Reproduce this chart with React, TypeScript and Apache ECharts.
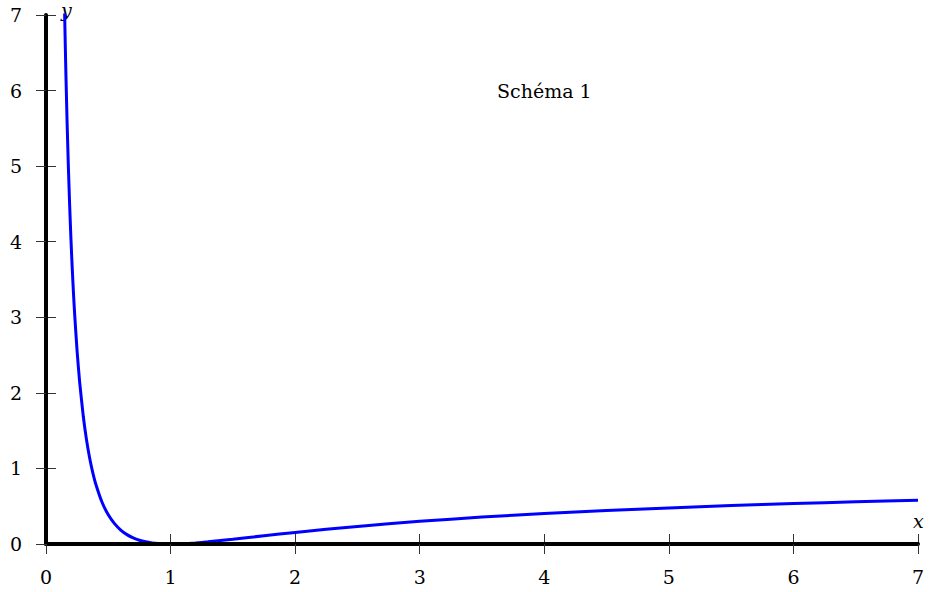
import React, { useEffect, useRef } from "react";
import * as echarts from "echarts";

const xTicks = [0, 1, 2, 3, 4, 5, 6, 7];
const yTicks = [0, 1, 2, 3, 4, 5, 6, 7];

const curveX = [
  0.14, 0.15, 0.16, 0.17, 0.18, 0.19, 0.2, 0.21, 0.22, 0.23, 0.25, 0.27, 0.3, 0.325, 0.35, 0.375,
  0.4, 0.45, 0.5, 0.55, 0.6, 0.65, 0.7, 0.75, 0.8, 0.85, 0.9, 0.95, 1, 1.1, 1.2, 1.3, 1.5, 1.75,
  2, 2.5, 3, 3.5, 4, 4.5, 5, 5.5, 6, 6.5, 7,
];
const curveY = [
  7.901, 6.981, 6.204, 5.541, 4.971, 4.478, 4.047, 3.67, 3.337, 3.042, 2.545, 2.146, 1.68, 1.381,
  1.142, 0.949, 0.791, 0.552, 0.386, 0.269, 0.185, 0.124, 0.081, 0.05, 0.029, 0.0147, 0.006,
  0.0014, 0, 0.0043, 0.0147, 0.029, 0.063, 0.109, 0.153, 0.233, 0.3, 0.356, 0.403, 0.4435, 0.478,
  0.508, 0.535, 0.558, 0.579,
];

const annotation = "Schéma 1";
const FONT = "DejaVu Serif";

export default function App() {
  const ref = useRef<HTMLDivElement>(null);
  useEffect(() => {
    if (!ref.current) return;
    const chart = echarts.init(ref.current, null, { renderer: "svg" });
    const data = curveX.map((x, i) => [x, curveY[i]]);
    const labelStyle = { color: "#000", fontFamily: FONT, fontSize: 19 };
    const baseX = {
      type: "value" as const,
      min: xTicks[0],
      max: xTicks[xTicks.length - 1],
      interval: 1,
      splitLine: { show: false },
    };
    const baseY = {
      type: "value" as const,
      min: yTicks[0],
      max: yTicks[yTicks.length - 1],
      interval: 1,
      splitLine: { show: false },
    };
    chart.setOption({
      animation: false,
      grid: { left: 46, right: 15, top: 15, bottom: 48 },
      xAxis: [
        {
          ...baseX,
          axisLine: { show: true, lineStyle: { color: "#000", width: 4 } },
          axisTick: { show: true, inside: false, length: 10, lineStyle: { color: "#333", width: 1 } },
          axisLabel: { ...labelStyle, margin: 23 },
          z: 3,
        },
        {
          ...baseX,
          position: "bottom",
          axisLine: { show: false },
          axisTick: { show: true, inside: true, length: 10, lineStyle: { color: "#333", width: 1 } },
          axisLabel: { show: false },
        },
      ],
      yAxis: [
        {
          ...baseY,
          axisLine: { show: true, lineStyle: { color: "#000", width: 4 } },
          axisTick: { show: true, inside: false, length: 10, lineStyle: { color: "#333", width: 1 } },
          axisLabel: { ...labelStyle, margin: 24 },
          z: 3,
        },
        {
          ...baseY,
          position: "left",
          axisLine: { show: false },
          axisTick: { show: true, inside: true, length: 10, lineStyle: { color: "#333", width: 1 } },
          axisLabel: { show: false },
        },
      ],
      series: [
        {
          type: "line",
          data,
          xAxisIndex: 0,
          yAxisIndex: 0,
          showSymbol: false,
          smooth: 0.2,
          clip: true,
          lineStyle: { color: "#0000ff", width: 3 },
          itemStyle: { color: "#0000ff" },
          z: 2,
        },
      ],
      graphic: [
        {
          type: "text",
          left: 497,
          top: 81,
          style: { text: annotation, fill: "#000", font: `19px "${FONT}"` },
        },
        {
          type: "text",
          left: 61,
          top: 0,
          style: { text: "y", fill: "#000", font: `italic 19px "${FONT}"` },
        },
        {
          type: "text",
          left: 913,
          top: 511,
          style: { text: "x", fill: "#000", font: `italic 19px "${FONT}"` },
        },
      ],
    });
    return () => chart.dispose();
  }, []);
  return <div ref={ref} style={{ width: 933, height: 592, position: "absolute", left: 0, top: 0 }} />;
}
